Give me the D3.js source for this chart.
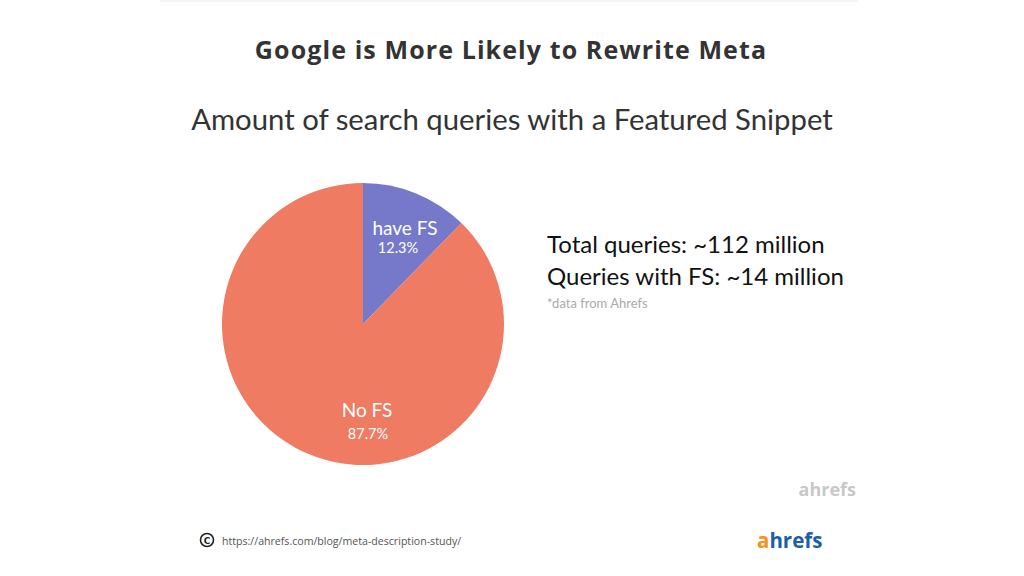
<!DOCTYPE html>
<html><head><meta charset="utf-8">
<script src="https://cdn.jsdelivr.net/npm/d3@7"></script>
<style>html,body{margin:0;padding:0;background:#fff;}svg{display:block;}</style>
</head><body>
<svg id="c" width="1024" height="576"></svg>
<script>
const categories = ["have FS", "No FS"];
const values = [12.3, 87.7];
const labels = ["12.3%", "87.7%"];
const colors = ["#7679c9", "#ee7b62"];
const infoLines = ["Total queries: ~112 million", "Queries with FS: ~14 million"];

const svg = d3.select("#c");
svg.append("rect").attr("x",160).attr("y",0).attr("width",698).attr("height",2).attr("fill","#f4f4f4");

svg.append("text").attr("x",511).attr("y",59).attr("text-anchor","middle")
  .attr("font-family","Open Sans").attr("font-weight","700").attr("font-size",25)
  .attr("letter-spacing",1.1)
  .attr("fill","#333").text("Google is More Likely to Rewrite Meta");
svg.append("text").attr("x",512).attr("y",130).attr("text-anchor","middle")
  .attr("font-family","Lato").attr("font-size",29.3)
  .attr("fill","#333").text("Amount of search queries with a Featured Snippet");

const cx = 363, cy = 324, r = 141;
const pie = d3.pie().sort(null).value(d => d)(values);
const arc = d3.arc().innerRadius(0).outerRadius(r);
const g = svg.append("g").attr("transform",`translate(${cx},${cy})`);
g.selectAll("path").data(pie).join("path").attr("d",arc).attr("fill",(d,i)=>colors[i]);

const labelPos = [[42,-89],[4,93]];
const pctPos = [[35,-71],[5,115]];
pie.forEach((d,i)=>{
  const t = g.append("text").attr("text-anchor","middle").attr("font-family","Lato").attr("fill","#fff");
  t.append("tspan").attr("x",labelPos[i][0]).attr("y",labelPos[i][1]).attr("font-size",19).text(categories[i]);
  t.append("tspan").attr("x",pctPos[i][0]).attr("y",pctPos[i][1]).attr("font-size",14.5).text(labels[i]);
});

infoLines.forEach((s,i)=>{
  svg.append("text").attr("x",547).attr("y",253+i*32).attr("font-family","Lato").attr("font-size",24)
    .attr("fill","#111").text(s);
});
svg.append("text").attr("x",547).attr("y",308).attr("font-family","Lato").attr("font-size",13)
  .attr("fill","#aaa").text("*data from Ahrefs");

svg.append("text").attr("x",856).attr("y",496).attr("text-anchor","end").attr("font-family","Open Sans")
  .attr("font-weight","700").attr("font-size",18).attr("fill","#c8c8c8").text("ahrefs");

// footer
svg.append("circle").attr("cx",207).attr("cy",540).attr("r",6.5).attr("fill","none").attr("stroke","#222").attr("stroke-width",1.6);
svg.append("text").attr("x",207).attr("y",543.5).attr("text-anchor","middle").attr("font-family","DejaVu Sans")
  .attr("font-weight","700").attr("font-size",9).attr("fill","#222").text("C");
svg.append("text").attr("x",222).attr("y",544.5).attr("font-family","Open Sans").attr("font-size",10.6)
  .attr("fill","#555").text("https://ahrefs.com/blog/meta-description-study/");

const lg = svg.append("text").attr("x",757).attr("y",548).attr("font-family","Open Sans")
  .attr("font-weight","700").attr("font-size",20.5);
lg.append("tspan").attr("fill","#f5921e").text("a");
lg.append("tspan").attr("fill","#1d5ea8").text("hrefs");
</script>
</body></html>
